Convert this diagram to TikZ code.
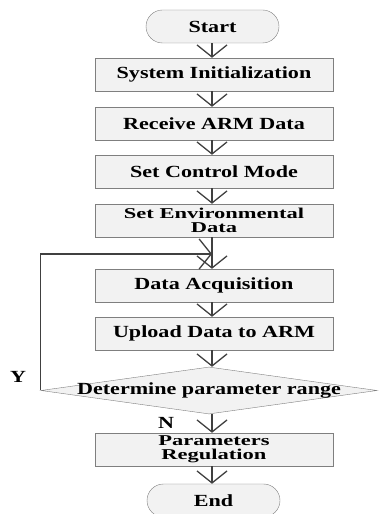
\documentclass[tikz,border=0pt]{standalone}
\usepackage{fontspec}
\setmainfont{Liberation Serif}[FakeStretch=1.3]
\newfontfamily\twolinefont{Liberation Serif}[FakeStretch=1.5]
\usetikzlibrary{shapes.misc,shapes.geometric,arrows.meta}
\definecolor{edgegray}{HTML}{7F7F7F}
\definecolor{linegray}{HTML}{404040}
\definecolor{boxfill}{HTML}{F2F2F2}
\tikzset{
  every node/.style={font=\fontsize{17}{16}\selectfont\bfseries},
  terminal/.style={rounded rectangle, draw=edgegray, fill=boxfill, minimum width=133pt, minimum height=33pt, inner sep=0pt},
  process/.style={rectangle, draw=edgegray, fill=boxfill, minimum width=238pt, minimum height=33pt, inner sep=0pt, align=center},
  twoline/.style={process, font=\twolinefont\fontsize{15}{14}\selectfont\bfseries},
  decision/.style={diamond, draw=edgegray, fill=boxfill, minimum width=336pt, minimum height=47pt, aspect=7.1, inner sep=0pt},
  flow/.style={draw=linegray, line width=1.3pt, -{Straight Barb[length=12pt,width=30pt]}}
}
\begin{document}
\begin{tikzpicture}[x=1pt,y=1pt]
                \useasboundingbox (0,0) rectangle (378,514);

                \node[terminal] (start) at (212.5,487.5) {Start};
                \node[process] (init) at (214,439.5) {System Initialization};
                \node[process] (arm) at (214,390.5) {Receive ARM Data};
                \node[process] (mode) at (214,342.5) {Set Control Mode};
                \node[twoline] (env) at (214,293.5) {Set Environmental\\Data};
                \node[process] (acq) at (214,228.5) {Data Acquisition};
                \node[process] (upload) at (214,180.5) {Upload Data to ARM};
                \node[decision, label=center:{Determine parameter range}] (range) at (209,123.5) {};
                \node[twoline] (reg) at (214,64.5) {Parameters\\Regulation};
                \node[terminal] (end) at (213.5,13.5) {End};

                \coordinate (loop) at (212,260);
                \node (yes) at (18,137) {Y};
                \node (no) at (166,91) {N};

                \draw[flow] (start.south -| 212,0) -- (init.north -| 212,0);
                \draw[flow] (init.south -| 212,0) -- (arm.north -| 212,0);
                \draw[flow] (arm.south -| 212,0) -- (mode.north -| 212,0);
                \draw[flow] (mode.south -| 212,0) -- (env.north -| 212,0);
                \draw[flow] (env.south -| 212,0) -- (acq.north -| 212,0);
                \draw[flow] (acq.south -| 212,0) -- (upload.north -| 212,0);
                \draw[flow] (upload.south -| 212,0) -- (range.north -| 212,0);
                \draw[flow] (range.south -| 212,0) -- (reg.north -| 212,0);
                \draw[flow] (reg.south -| 212,0) -- (end.north -| 212,0);
                \draw[flow] (range.west) -- (range.west |- loop) -- (loop);
            \end{tikzpicture}
\end{document}
